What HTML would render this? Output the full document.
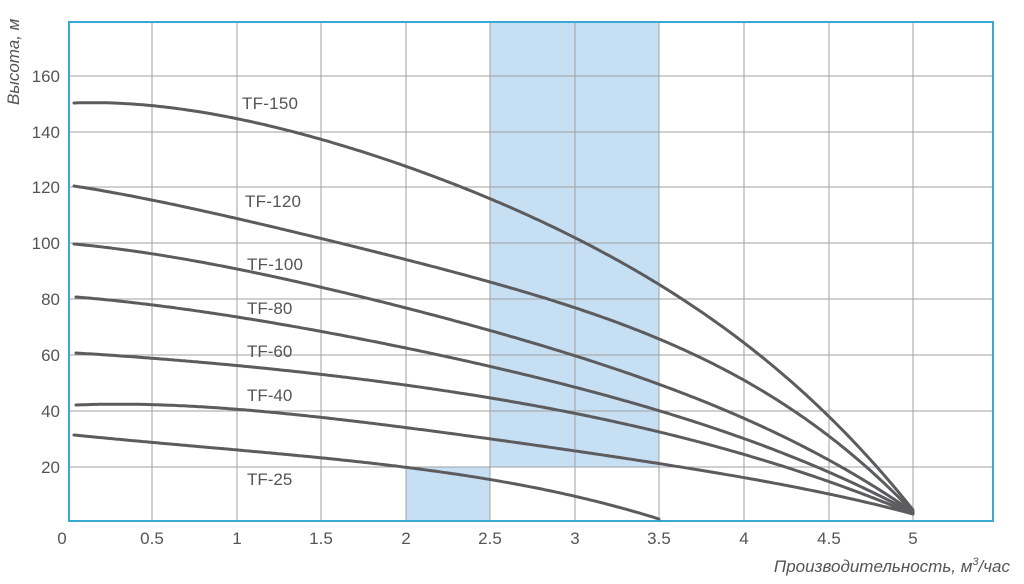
<!DOCTYPE html>
<html><head><meta charset="utf-8"><style>
body{margin:0;background:#fff;width:1024px;height:579px;overflow:hidden}
svg text{font-family:"Liberation Sans",sans-serif;fill:#555}
</style></head><body>
<svg width="1024" height="579" viewBox="0 0 1024 579">
<rect x="490" y="22" width="169" height="445" fill="#c6dff2"/>
<rect x="406" y="467" width="84" height="54" fill="#c6dff2"/>
<g stroke="#a0a0a0" stroke-width="1">
<line x1="152" y1="22" x2="152" y2="521"/><line x1="237" y1="22" x2="237" y2="521"/>
<line x1="321" y1="22" x2="321" y2="521"/><line x1="406" y1="22" x2="406" y2="521"/>
<line x1="490" y1="22" x2="490" y2="521"/><line x1="575" y1="22" x2="575" y2="521"/>
<line x1="659" y1="22" x2="659" y2="521"/><line x1="744" y1="22" x2="744" y2="521"/>
<line x1="829" y1="22" x2="829" y2="521"/><line x1="913" y1="22" x2="913" y2="521"/>
<line x1="69" y1="76" x2="993" y2="76"/><line x1="69" y1="132" x2="993" y2="132"/>
<line x1="69" y1="187" x2="993" y2="187"/><line x1="69" y1="243" x2="993" y2="243"/>
<line x1="69" y1="299" x2="993" y2="299"/><line x1="69" y1="355" x2="993" y2="355"/>
<line x1="69" y1="411" x2="993" y2="411"/><line x1="69" y1="467" x2="993" y2="467"/>
</g>
<rect x="69" y="22" width="924" height="499" fill="none" stroke="#3aa8d4" stroke-width="2"/>
<g id="curves" fill="none" stroke="#5c5c5e" stroke-width="3" stroke-linejoin="round" stroke-linecap="round"></g>
<g font-size="17">
<text x="242" y="109" textLength="56">TF-150</text><text x="245" y="207" textLength="56">TF-120</text>
<text x="247" y="270" textLength="56">TF-100</text><text x="247" y="314">TF-80</text>
<text x="247" y="357">TF-60</text><text x="247" y="401">TF-40</text>
<text x="247" y="485">TF-25</text>
</g>
<g font-size="17" text-anchor="end">
<text x="60" y="82">160</text><text x="60" y="138">140</text><text x="60" y="193">120</text>
<text x="60" y="249">100</text><text x="60" y="305">80</text><text x="60" y="361">60</text>
<text x="60" y="417">40</text><text x="60" y="473">20</text>
</g>
<g font-size="17" text-anchor="middle">
<text x="62" y="544">0</text><text x="152" y="544">0.5</text><text x="237" y="544">1</text>
<text x="321" y="544">1.5</text><text x="406" y="544">2</text><text x="490" y="544">2.5</text>
<text x="575" y="544">3</text><text x="659" y="544">3.5</text><text x="744" y="544">4</text>
<text x="829" y="544">4.5</text><text x="913" y="544">5</text>
</g>
<text x="1010" y="572" font-size="17" font-style="italic" text-anchor="end">Производительность, м<tspan font-size="11" dy="-7">3</tspan><tspan dy="7">/час</tspan></text>
<text transform="translate(19,105) rotate(-90)" font-size="17" font-style="italic">Высота, м</text>
</svg>
<script>
var S=[
[[74,103],[237,120],[406,165],[490,198],[575,237],[659,287],[744,345],[829,412],[913,510]],
[[74,186],[237,220],[406,258],[490,281],[575,308],[659,341],[744,382],[829,432],[913,512]],
[[74,244],[237,268],[406,310],[490,330],[575,355],[659,383],[744,420],[829,460],[913,512]],
[[76,297],[237,316],[406,350],[490,366],[575,386],[659,410],[744,440],[829,472],[913,513]],
[[76,353],[237,365],[406,386],[490,398],[575,413],[659,431],[744,455],[829,482],[913,514]],
[[76,405],[152,405],[237,410],[406,426],[490,439],[575,451],[659,465],[744,478],[829,492],[913,514]],
[[74,435],[237,450],[406,467],[490,480],[575,496],[659,519]]];
function fit(p,deg){
 var n=deg+1,A=[],b=[],i,j,k;
 for(i=0;i<n;i++){A.push(new Array(n).fill(0));b.push(0);}
 p.forEach(function(q,idx){var x=(q[0]-490)/420,w=(idx==0||idx==p.length-1)?20:1;
  for(i=0;i<n;i++){b[i]+=w*q[1]*Math.pow(x,i);for(j=0;j<n;j++)A[i][j]+=w*Math.pow(x,i+j);}});
 for(i=0;i<n;i++){var m=i;for(k=i+1;k<n;k++)if(Math.abs(A[k][i])>Math.abs(A[m][i]))m=k;
  var t=A[i];A[i]=A[m];A[m]=t;t=b[i];b[i]=b[m];b[m]=t;
  for(k=i+1;k<n;k++){var f=A[k][i]/A[i][i];for(j=i;j<n;j++)A[k][j]-=f*A[i][j];b[k]-=f*b[i];}}
 var c=new Array(n);for(i=n-1;i>=0;i--){var s=b[i];for(j=i+1;j<n;j++)s-=A[i][j]*c[j];c[i]=s/A[i][i];}
 return function(X){var x=(X-490)/420,y=0;for(var i=0;i<n;i++)y+=c[i]*Math.pow(x,i);return y;};
}
var g=document.getElementById('curves');
S.forEach(function(p){
 var f=fit(p,4),x0=p[0][0],x1=p[p.length-1][0],d='';
 for(var x=x0;x<=x1;x+=3){d+=(d?' L':'M')+x+','+f(x).toFixed(1);}
 d+=' L'+x1+','+f(x1).toFixed(1);
 var el=document.createElementNS('http://www.w3.org/2000/svg','path');
 el.setAttribute('d',d);g.appendChild(el);
});
</script>
</body></html>
